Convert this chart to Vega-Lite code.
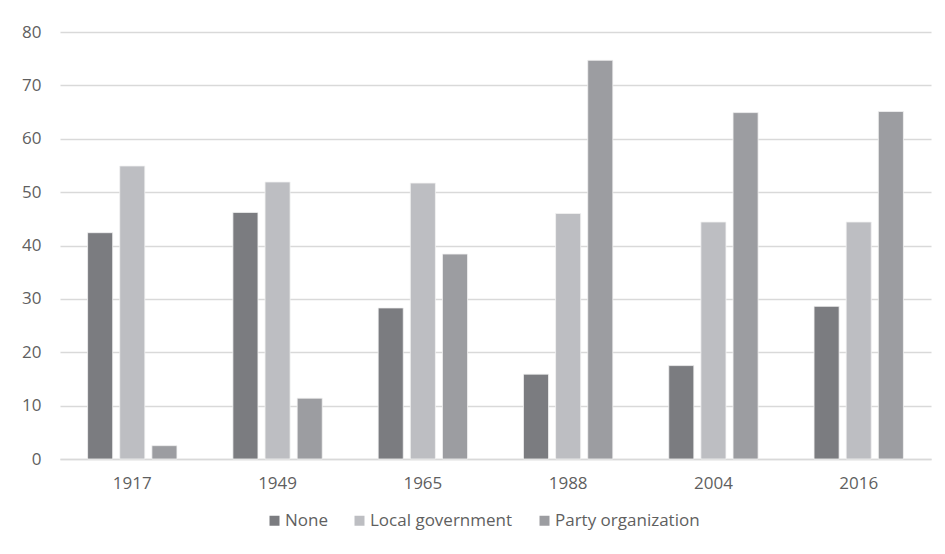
{
  "$schema": "https://vega.github.io/schema/vega-lite/v6.json",
  "width": 871,
  "height": 427,
  "autosize": {"type": "none"},
  "padding": {"left": 60, "top": 32, "right": 14, "bottom": 95},
  "background": "#ffffff",
  "data": {
    "values": [
      {"year": "1917", "series": "None", "value": 42.4},
      {"year": "1917", "series": "Local government", "value": 54.9},
      {"year": "1917", "series": "Party organization", "value": 2.5},
      {"year": "1949", "series": "None", "value": 46.2},
      {"year": "1949", "series": "Local government", "value": 51.9},
      {"year": "1949", "series": "Party organization", "value": 11.4},
      {"year": "1965", "series": "None", "value": 28.3},
      {"year": "1965", "series": "Local government", "value": 51.7},
      {"year": "1965", "series": "Party organization", "value": 38.4},
      {"year": "1988", "series": "None", "value": 15.9},
      {"year": "1988", "series": "Local government", "value": 46.0},
      {"year": "1988", "series": "Party organization", "value": 74.7},
      {"year": "2004", "series": "None", "value": 17.5},
      {"year": "2004", "series": "Local government", "value": 44.4},
      {"year": "2004", "series": "Party organization", "value": 64.9},
      {"year": "2016", "series": "None", "value": 28.6},
      {"year": "2016", "series": "Local government", "value": 44.4},
      {"year": "2016", "series": "Party organization", "value": 65.1}
    ]
  },
  "mark": {"type": "bar", "stroke": "#f2f2f2", "strokeWidth": 0.8},
  "encoding": {
    "x": {
      "field": "year",
      "type": "nominal",
      "title": null,
      "scale": {"paddingInner": 0.385, "paddingOuter": 0.19},
      "axis": {
        "labelAngle": 0,
        "labelFont": "Open Sans",
        "labelFontSize": 17,
        "labelColor": "#5f5f5f",
        "labelPadding": 16,
        "ticks": false,
        "domain": true,
        "domainColor": "#d9d9d9",
        "domainWidth": 1.5,
        "grid": false
      }
    },
    "xOffset": {
      "field": "series",
      "type": "nominal",
      "sort": ["None", "Local government", "Party organization"],
      "scale": {"paddingInner": 0.22, "paddingOuter": 0}
    },
    "y": {
      "field": "value",
      "type": "quantitative",
      "title": null,
      "scale": {"domain": [0, 80], "nice": false},
      "axis": {
        "values": [0, 10, 20, 30, 40, 50, 60, 70, 80],
        "labelFont": "Open Sans",
        "labelFontSize": 17,
        "labelColor": "#5f5f5f",
        "labelPadding": 19,
        "ticks": false,
        "domain": false,
        "grid": true,
        "gridColor": "#d9d9d9",
        "gridWidth": 1.5
      }
    },
    "color": {
      "field": "series",
      "type": "nominal",
      "sort": ["None", "Local government", "Party organization"],
      "scale": {
        "domain": ["None", "Local government", "Party organization"],
        "range": ["#7b7c80", "#bdbec2", "#9c9da1"]
      },
      "legend": {
        "title": null,
        "orient": "none",
        "direction": "horizontal",
        "legendX": 206,
        "legendY": 480,
        "symbolType": "square",
        "symbolSize": 100,
        "symbolStrokeWidth": 0,
        "labelFont": "Open Sans",
        "labelFontSize": 17,
        "labelColor": "#5f5f5f",
        "labelOffset": 2,
        "columnPadding": 23
      }
    }
  },
  "config": {
    "view": {"stroke": null}
  }
}
